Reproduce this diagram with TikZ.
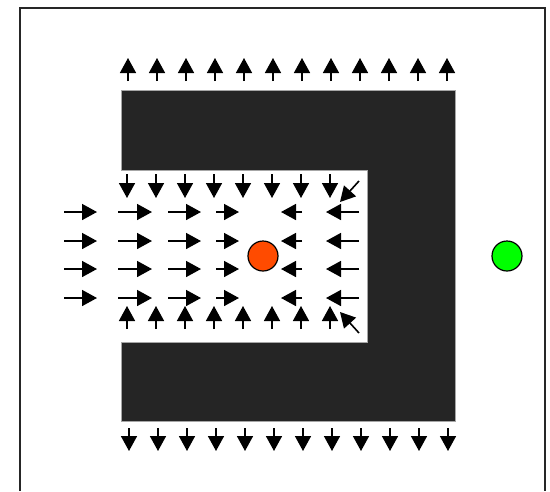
\documentclass[tikz,border=0pt]{standalone}
\usepackage{xcolor}
\usepackage{tikz}
\usetikzlibrary{arrows.meta}

\definecolor{wallgray}{RGB}{37,37,37}
\definecolor{sourcered}{RGB}{255,75,0}
\definecolor{goalgreen}{RGB}{0,255,0}

\begin{document}
\begin{tikzpicture}[
  x=1pt,y=-1pt,
  frame/.style={line width=1.8pt,draw=black!85},
  wall/.style={fill=wallgray,draw=black!35,line width=0.8pt},
  force/.style={-{Triangle[length=15pt,width=16pt]},line width=1.6pt},
  agent/.style={circle,draw=black,line width=1.2pt,minimum size=30pt,inner sep=0pt}
]
  \useasboundingbox (0,0) rectangle (550,491);

  % outer frame, open at the bottom
  \draw[frame] (20,491) -- (20,8) -- (545,8) -- (545,491);

  % U-shaped obstacle
  \path[wall] (121,90) -- (455,90) -- (455,421) -- (121,421) -- (121,342)
    -- (367,342) -- (367,170) -- (121,170) -- cycle;

  % outside of the obstacle
  \foreach \i in {0,...,11} {
    \draw[force] (128+29*\i,81) -- (128+29*\i,58);
    \draw[force] (129+29*\i,428) -- (129+29*\i,451);
  }

  % inside the notch
  \foreach \i in {0,...,7} {
    \draw[force] (127+29*\i,174) -- (127+29*\i,198);
    \draw[force] (127+29*\i,329) -- (127+29*\i,306);
  }
  \draw[force] (359,181) -- (340,202);
  \draw[force] (359,333) -- (340,312);

  \foreach \y in {212,241,269,298} {
    \draw[force] (64,\y) -- (97,\y);
    \draw[force] (118,\y) -- (152,\y);
    \draw[force] (168,\y) -- (201,\y);
    \draw[force] (216,\y) -- (239,\y);
    \draw[force] (302,\y) -- (281,\y);
    \draw[force] (359,\y) -- (326,\y);
  }

  \node[agent,fill=sourcered] (robot) at (263,256) {};
  \node[agent,fill=goalgreen] (goal) at (507,256) {};
\end{tikzpicture}
\end{document}
